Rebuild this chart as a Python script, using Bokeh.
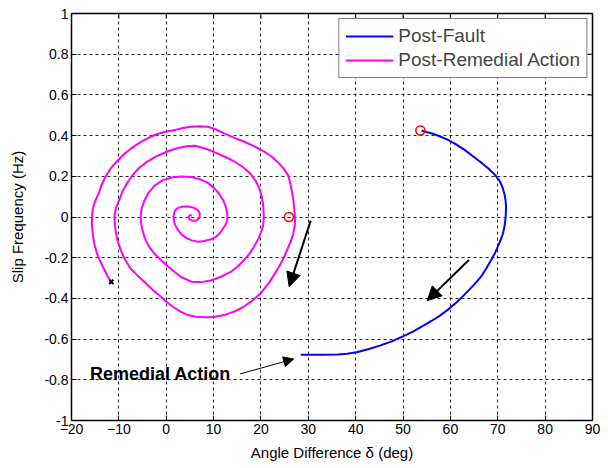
from bokeh.plotting import figure
from bokeh.models import FixedTicker, Arrow, NormalHead, Legend, LegendItem, Label
from bokeh.embed import file_html
from bokeh.resources import INLINE

# Axis ticks
x_ticks = [-20, -10, 0, 10, 20, 30, 40, 50, 60, 70, 80, 90]
y_ticks = [-1.0, -0.8, -0.6, -0.4, -0.2, 0.0, 0.2, 0.4, 0.6, 0.8, 1.0]
y_tick_labels = ["-1", "-0.8", "-0.6", "-0.4", "-0.2", "0", "0.2", "0.4", "0.6", "0.8", "1"]

# Post-fault trajectory (angle difference in deg, slip frequency in Hz)
post_fault_delta = [53.9, 54.9, 56.3, 57.7, 59.5, 61.2, 63.0, 64.7, 66.5, 68.2,
                    69.4, 70.4, 71.0, 71.4, 71.65, 71.75, 71.7, 71.6, 71.4, 71.1,
                    70.6, 70.0, 69.4, 68.6, 67.6, 66.5, 65.3, 64.0, 62.6, 61.2,
                    59.5, 57.7, 56.0, 54.2, 52.2, 50.0, 47.6, 45.1, 42.6, 40.2,
                    38.2, 36.3, 32.5, 28.4]
post_fault_slip = [0.425, 0.418, 0.409, 0.397, 0.379, 0.357, 0.330, 0.300, 0.268, 0.235,
                   0.207, 0.178, 0.146, 0.113, 0.081, 0.049, 0.016, -0.016, -0.048, -0.081,
                   -0.113, -0.146, -0.178, -0.211, -0.252, -0.292, -0.325, -0.357, -0.390, -0.421,
                   -0.455, -0.486, -0.511, -0.535, -0.562, -0.587, -0.611, -0.632, -0.650, -0.665,
                   -0.672, -0.676, -0.677, -0.677]

# Post-remedial-action trajectory, spiralling in towards the stable point
remedial_delta = [-11.6, -12.4, -13.2, -14.0, -14.6, -15.1, -15.4, -15.6, -15.7, -15.65,
                  -15.5, -15.0, -14.3, -13.7, -12.9, -11.8, -10.4, -8.7, -6.8, -4.7,
                  -2.5, -0.4, 1.8, 3.5, 5.3, 7.0, 8.7, 10.5, 12.2, 14.3,
                  16.4, 18.5, 20.6, 22.3, 23.7, 24.9, 25.8, 26.2, 26.5, 26.8,
                  27.0, 27.15, 27.2, 27.0, 26.8, 26.2, 25.5, 24.6, 23.4, 21.8,
                  19.9, 18.2, 16.4, 14.3, 12.2, 10.1, 8.0, 6.3, 4.6, 3.0,
                  1.4, 0.1, -1.1, -2.9, -4.6, -6.1, -7.5, -8.7, -9.6, -10.3,
                  -10.7, -10.9, -10.9, -10.6, -10.0, -9.2, -8.2, -7.0, -5.7, -4.0,
                  -2.1, 0.2, 2.5, 4.3, 6.1, 8.7, 10.8, 12.9, 14.7, 16.4,
                  17.8, 18.9, 19.7, 20.2, 20.5, 20.6, 20.5, 20.2, 19.5, 18.5,
                  17.6, 16.4, 15.1, 13.6, 11.6, 9.4, 7.3, 5.3, 3.2, 1.8,
                  0.4, -1.1, -2.5, -3.6, -4.5, -5.0, -5.3, -5.4, -5.2, -4.6,
                  -3.7, -2.5, -0.8, 1.1, 3.2, 5.3, 7.1, 8.7, 10.1, 11.2,
                  12.1, 12.6, 12.9, 12.9, 12.6, 12.2, 11.5, 10.5, 9.3, 8.0,
                  6.8, 5.5, 4.3, 3.3, 2.5, 1.8, 1.5, 1.8, 2.5, 3.5,
                  4.6, 5.8, 6.7, 7.1, 7.0, 6.4, 5.6, 4.9, 4.7, 5.0,
                  5.4]
remedial_slip = [-0.319, -0.290, -0.253, -0.215, -0.180, -0.140, -0.100, -0.065, -0.030, 0.005,
                 0.040, 0.078, 0.113, 0.155, 0.194, 0.236, 0.274, 0.313, 0.347, 0.378,
                 0.403, 0.418, 0.427, 0.437, 0.444, 0.446, 0.444, 0.430, 0.411, 0.390,
                 0.371, 0.348, 0.323, 0.296, 0.266, 0.235, 0.202, 0.165, 0.129, 0.088,
                 0.048, 0.008, -0.032, -0.060, -0.085, -0.125, -0.163, -0.210, -0.261, -0.320,
                 -0.376, -0.410, -0.441, -0.465, -0.482, -0.491, -0.493, -0.490, -0.482, -0.465,
                 -0.441, -0.418, -0.392, -0.357, -0.319, -0.287, -0.253, -0.210, -0.163, -0.115,
                 -0.065, -0.028, 0.010, 0.045, 0.081, 0.127, 0.169, 0.208, 0.242, 0.272,
                 0.298, 0.322, 0.339, 0.348, 0.350, 0.333, 0.313, 0.290, 0.268, 0.242,
                 0.212, 0.177, 0.138, 0.097, 0.048, 0.000, -0.035, -0.065, -0.105, -0.147,
                 -0.180, -0.212, -0.243, -0.270, -0.293, -0.312, -0.320, -0.318, -0.296, -0.270,
                 -0.243, -0.212, -0.180, -0.147, -0.105, -0.065, -0.032, 0.000, 0.040, 0.081,
                 0.120, 0.153, 0.180, 0.194, 0.199, 0.197, 0.186, 0.169, 0.143, 0.113,
                 0.080, 0.048, 0.015, -0.016, -0.035, -0.049, -0.075, -0.098, -0.111, -0.118,
                 -0.122, -0.116, -0.104, -0.088, -0.065, -0.035, 0.000, 0.030, 0.045, 0.052,
                 0.052, 0.046, 0.034, 0.016, -0.005, -0.017, -0.019, -0.012, 0.000, 0.010,
                 0.006]

# Start points of the two trajectories and the end of the recorded one
start_delta = [25.9, 53.65]
start_slip = [0.0, 0.425]
end_delta = [-11.6]
end_slip = [-0.319]

# Direction-of-motion arrows
dir_x0 = [30.5, 63.9]
dir_y0 = [-0.018, -0.211]
dir_x1 = [25.96, 55.1]
dir_y1 = [-0.342, -0.411]

# "Remedial Action" callout
callout_text = "Remedial Action"
callout_pos = (-16.1, -0.77)
callout_arrow = (15.6, -0.771, 26.9, -0.698)

FONT = "Liberation Sans"
X_MIN, X_MAX, Y_MIN, Y_MAX = -20, 90, -1, 1

p = figure(width=608, height=468, x_range=(X_MIN, X_MAX), y_range=(Y_MIN, Y_MAX),
           output_backend="svg", toolbar_location=None,
           min_border_left=71, min_border_right=16, min_border_top=13, min_border_bottom=48,
           background_fill_color="white", border_fill_color="white")
p.outline_line_color = "black"
p.outline_line_width = 1.5

# Axes
p.xaxis.ticker = FixedTicker(ticks=x_ticks)
p.yaxis.ticker = FixedTicker(ticks=y_ticks)
p.yaxis.major_label_overrides = dict(zip(y_ticks, y_tick_labels))
p.xaxis.axis_label = "Angle Difference \u03b4 (deg)"
p.yaxis.axis_label = "Slip Frequency (Hz)"
for ax in (p.xaxis[0], p.yaxis[0]):
    ax.major_tick_in = 5
    ax.major_tick_out = 0
    ax.minor_tick_line_color = None
    ax.axis_line_color = None
    ax.major_tick_line_color = "black"
    ax.major_label_text_font = FONT
    ax.major_label_text_font_size = "14px"
    ax.major_label_text_color = "black"
    ax.axis_label_text_font = FONT
    ax.axis_label_text_font_size = "15px"
    ax.axis_label_text_font_style = "normal"
    ax.axis_label_text_color = "black"
    ax.major_label_standoff = 3
p.xaxis.axis_label_standoff = 7
p.yaxis.axis_label_standoff = 15

# Box ticks along the top and right edges (about 5 px long)
tick_len_x = (X_MAX - X_MIN) * 5 / 521
tick_len_y = (Y_MAX - Y_MIN) * 5 / 407
p.segment(x0=x_ticks, y0=[Y_MAX] * len(x_ticks), x1=x_ticks,
          y1=[Y_MAX - tick_len_y] * len(x_ticks), line_color="black", line_width=1)
p.segment(x0=[X_MAX] * len(y_ticks), y0=y_ticks, x1=[X_MAX - tick_len_x] * len(y_ticks),
          y1=y_ticks, line_color="black", line_width=1)

# Dotted grid
for g in (p.xgrid[0], p.ygrid[0]):
    g.grid_line_color = "black"
    g.grid_line_dash = "3 3"
    g.grid_line_width = 1
    g.grid_line_alpha = 0.85
p.xgrid.ticker = FixedTicker(ticks=x_ticks)
p.ygrid.ticker = FixedTicker(ticks=y_ticks)

# Trajectories
r_fault = p.line(post_fault_delta, post_fault_slip, line_color="#0000FF", line_width=2)
r_rem = p.line(remedial_delta, remedial_slip, line_color="#FF00FF", line_width=2)

p.scatter(start_delta, start_slip, marker="circle", size=9, fill_color=None,
          line_color="red", line_width=1.5)
p.scatter(end_delta, end_slip, marker="x", size=6, line_color="black", line_width=2)

# Direction arrows
for x0, y0, x1, y1 in zip(dir_x0, dir_y0, dir_x1, dir_y1):
    p.add_layout(Arrow(x_start=x0, y_start=y0, x_end=x1, y_end=y1,
                       line_color="black", line_width=2,
                       end=NormalHead(size=14, fill_color="black", line_color="black")))

p.add_layout(Arrow(x_start=callout_arrow[0], y_start=callout_arrow[1],
                   x_end=callout_arrow[2], y_end=callout_arrow[3],
                   line_color="black", line_width=1,
                   end=NormalHead(size=10, fill_color="black", line_color="black")))
p.add_layout(Label(x=callout_pos[0], y=callout_pos[1], text=callout_text,
                   text_font=FONT, text_font_size="18px", text_font_style="bold",
                   text_baseline="middle", text_align="left", text_color="black"))

legend = Legend(items=[LegendItem(label="Post-Fault", renderers=[r_fault]),
                       LegendItem(label="Post-Remedial Action", renderers=[r_rem])],
                location="top_right", margin=5, padding=6, spacing=2,
                glyph_width=48, glyph_height=22, label_standoff=5,
                label_text_font=FONT, label_text_font_size="19px",
                border_line_color="black", border_line_width=1,
                background_fill_color="white", background_fill_alpha=1.0)
p.add_layout(legend)

open("out.html", "w").write(file_html(p, INLINE))
